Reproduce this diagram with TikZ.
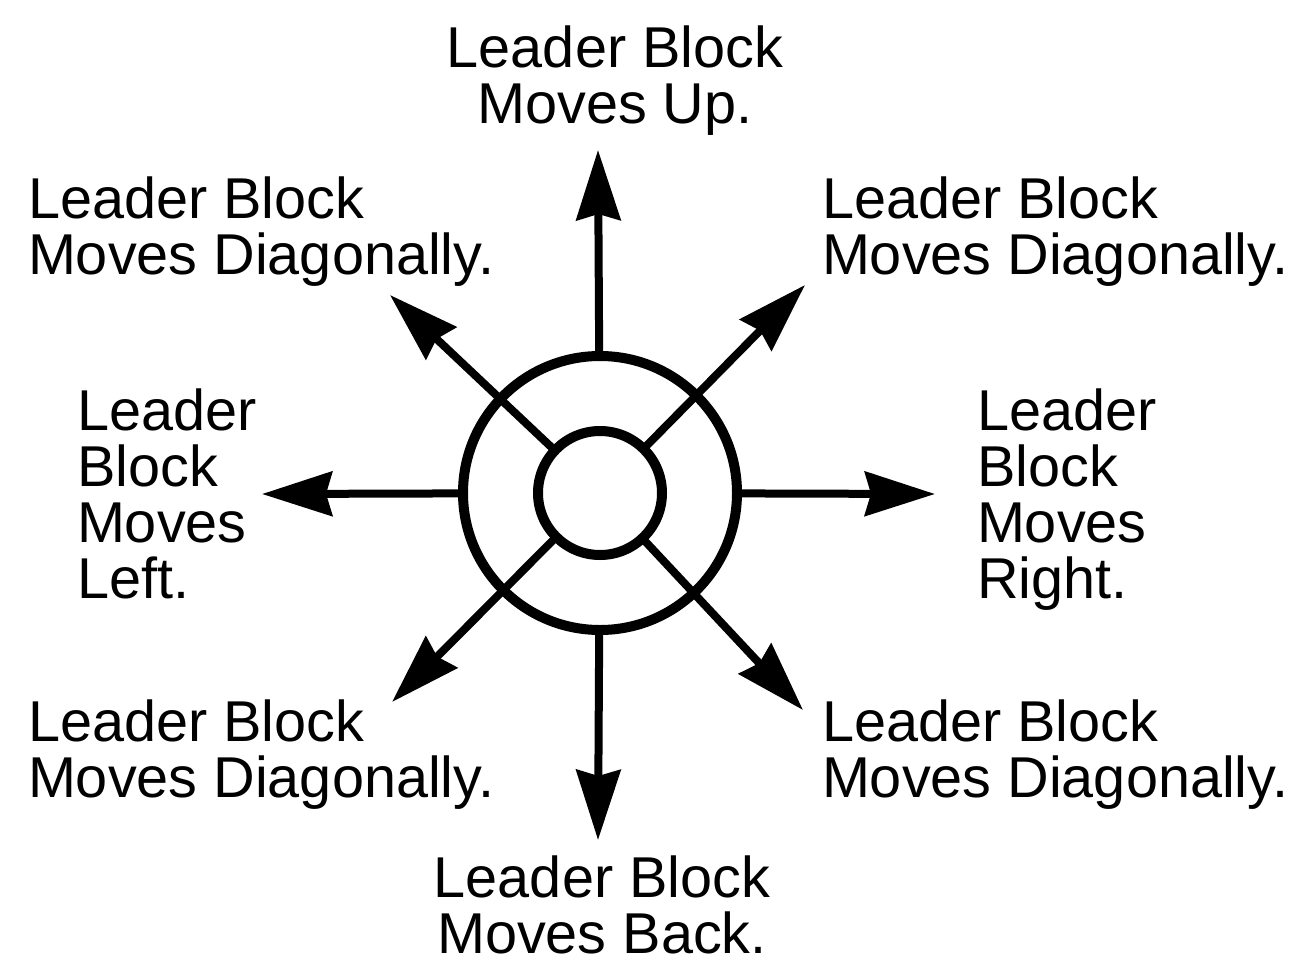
\documentclass[tikz,border=0pt]{standalone}
\usepackage{fontspec}
\setmainfont{Liberation Sans}
\usetikzlibrary{arrows.meta}
\begin{document}
\begin{tikzpicture}[x=0.5pt,y=-0.5pt,
  lbl/.style={inner sep=0pt, outer sep=0pt, font=\fontsize{28.8}{28}\selectfont},
  ring/.style={circle, draw, line width=5pt, inner sep=0pt, outer sep=0pt},
  ray/.style={line width=4pt, -{Stealth[length=35pt, width=22pt, inset=3pt]}}]
\useasboundingbox (0,0) rectangle (1312,964);
% circles
\node[ring, minimum size=137pt] (outer) at (600,493) {};
\node[ring, minimum size=62pt] (inner) at (600,493) {};
% tips
\coordinate (tU) at (598,150);
\coordinate (tD) at (598,840);
\coordinate (tL) at (262,494);
\coordinate (tR) at (935,494);
\coordinate (tUL) at (390,295);
\coordinate (tUR) at (805,285);
\coordinate (tDL) at (392,702);
\coordinate (tDR) at (803,710);
% arrows
\draw[ray] (outer) -- (tU);
\draw[ray] (outer) -- (tD);
\draw[ray] (outer) -- (tL);
\draw[ray] (outer) -- (tR);
\draw[ray] (inner) -- (tUL);
\draw[ray] (inner) -- (tUR);
\draw[ray] (inner) -- (tDL);
\draw[ray] (inner) -- (tDR);
% labels (base anchor = baseline of last line)
\node[lbl, anchor=base, align=center] (lU) at (615,123) {Leader Block\\Moves Up.};
\node[lbl, anchor=base west, align=left] (lUL) at (28,274) {Leader Block\\Moves Diagonally.};
\node[lbl, anchor=base west, align=left] (lUR) at (822,274) {Leader Block\\Moves Diagonally.};
\node[lbl, anchor=base west, align=left] (lL) at (77,598) {Leader\\Block\\Moves\\Left.};
\node[lbl, anchor=base west, align=left] (lR) at (977,598) {Leader\\Block\\Moves\\Right.};
\node[lbl, anchor=base west, align=left] (lDL) at (28,797) {Leader Block\\Moves Diagonally.};
\node[lbl, anchor=base west, align=left] (lDR) at (822,797) {Leader Block\\Moves Diagonally.};
\node[lbl, anchor=base, align=center] (lD) at (602,953) {Leader Block\\Moves Back.};
\end{tikzpicture}
\end{document}
